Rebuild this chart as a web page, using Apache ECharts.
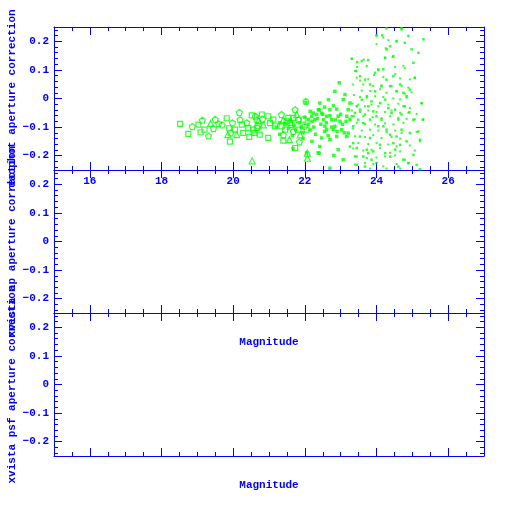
<!DOCTYPE html>
<html>
<head>
<meta charset="utf-8">
<script src="https://cdn.jsdelivr.net/npm/echarts@6/dist/echarts.min.js"></script>
<style>html,body{margin:0;padding:0;background:#fff}#c{width:512px;height:512px}</style>
</head>
<body>
<div id="c"></div>
<script>
// ---- axis setup ----
const xRange = [15, 27];
const yRange = [-0.25, 0.25];
const xMajorTicks = [16, 18, 20, 22, 24, 26];
const xMinorTicks = [15.5, 16.5, 17, 17.5, 18.5, 19, 19.5, 20.5, 21, 21.5, 22.5, 23, 23.5, 24.5, 25, 25.5, 26.5];
const yMajorTicks = [-0.2, -0.1, 0, 0.1, 0.2];
const yMinorTicks = [-0.24, -0.22, -0.18, -0.16, -0.14, -0.12, -0.08, -0.06, -0.04, -0.02, 0.02, 0.04, 0.06, 0.08, 0.12, 0.14, 0.16, 0.18, 0.22, 0.24];
const yTitles = ['daophot aperture correction', 'xvista ap aperture correction', 'xvista psf aperture correction'];
const xTitle = 'Magnitude';

// ---- data: [magnitude, aperture correction] (top panel) ----
const openSquares = [[18.52,-0.089],[18.75,-0.124],[19.03,-0.091],[19.09,-0.118],[19.2,-0.109],[19.82,-0.069],[19.91,-0.151],[19.89,-0.104],[20.05,-0.109],[20.24,-0.091],[20.28,-0.12],[20.42,-0.103],[20.45,-0.134],[20.52,-0.059],[20.59,-0.12],[20.66,-0.103],[20.74,-0.126],[20.56,-0.109],[20.70,-0.097],[20.98,-0.062],[21.03,-0.086],[21.17,-0.097],[20.98,-0.138],[21.35,-0.097],[21.45,-0.109],[21.49,-0.080],[21.59,-0.086],[21.68,-0.068],[21.82,-0.109],[21.40,-0.147],[21.73,-0.173],[21.96,-0.074],[22.05,-0.109],[20.80,-0.056],[21.12,-0.074],[21.54,-0.068],[21.63,-0.092]];
const openTriangles = [[19.37,-0.087],[19.85,-0.126],[20.1,-0.126],[20.53,-0.218],[20.71,-0.077],[21.40,-0.074],[21.77,-0.056],[21.87,-0.127],[22.07,-0.191],[22.07,-0.209],[20.84,-0.092],[21.57,-0.144]];
const openPentagons = [[18.86,-0.098],[19.14,-0.076],[19.31,-0.131],[19.45,-0.105],[19.5,-0.073],[19.59,-0.088],[19.69,-0.092],[19.93,-0.12],[19.98,-0.085],[20.17,-0.049],[20.19,-0.074],[20.38,-0.085],[20.62,-0.062],[20.66,-0.074],[20.82,-0.072],[21.35,-0.056],[21.40,-0.127],[21.73,-0.039],[21.82,-0.074],[21.68,-0.115],[21.85,-0.152],[22.00,-0.097],[22.03,-0.010]];
const filledSquares = [[22.10,-0.074],[22.19,-0.062],[22.24,-0.051],[22.28,-0.074],[22.33,-0.056],[22.38,-0.039],[22.42,-0.016],[22.47,-0.051],[22.52,-0.074],[22.56,-0.097],[22.61,-0.062],[22.66,-0.004],[22.70,-0.039],[22.75,-0.074],[22.80,-0.025],[22.84,-0.097],[22.89,-0.037],[22.93,-0.062],[22.98,-0.080],[23.03,-0.109],[22.96,0.055],[22.84,0.025],[23.07,-0.004],[23.12,0.014],[23.17,-0.062],[23.21,-0.039],[23.26,-0.074],[23.26,-0.016],[22.42,-0.168],[22.40,-0.191],[22.47,-0.138],[22.61,-0.109],[22.70,-0.144],[22.80,-0.109],[22.89,-0.133],[22.93,-0.179],[22.81,-0.199],[22.70,-0.244],[23.07,-0.214],[23.17,-0.133],[23.21,-0.121],
[21.2,-0.1],[21.3,-0.085],[21.45,-0.09],[21.55,-0.105],[21.6,-0.075],[21.7,-0.095],[21.75,-0.11],[21.85,-0.085],[21.9,-0.1],[21.95,-0.12],[22.0,-0.065],[22.1,-0.09],[22.15,-0.11],[22.2,-0.08],[22.25,-0.1],[22.3,-0.125],[22.35,-0.07],[22.45,-0.09],[22.5,-0.055],[22.55,-0.115],[22.6,-0.085],[22.65,-0.13],[22.7,-0.06],[22.75,-0.1],[22.85,-0.075],[22.9,-0.115],[23.0,-0.055],[23.05,-0.09],[23.1,-0.12],[23.15,-0.08],[21.3,-0.125],[21.65,-0.13],[21.95,-0.14],[22.2,-0.15],[22.4,-0.04],[22.55,-0.03],[22.15,-0.045],[22.03,-0.013],[22.37,-0.19],[22.05,-0.19],[21.67,-0.175]];
const smallSquares = [[23.31,-0.062],[23.35,-0.097],[23.40,-0.051],[23.45,-0.027],[23.49,-0.074],[23.54,-0.039],[23.59,-0.004],[23.63,-0.086],[23.68,-0.056],[23.73,0.008],[23.77,-0.027],[23.82,-0.074],[23.86,-0.010],[23.91,-0.045],[23.96,0.025],[24.00,-0.062],[24.05,-0.097],[24.10,-0.016],[24.14,-0.074],[23.35,-0.156],[23.45,-0.173],[23.54,-0.133],[23.63,-0.203],[23.73,-0.179],[23.82,-0.138],[23.91,-0.185],[24.00,-0.226],[24.10,-0.162],[23.31,0.139],[23.46,0.127],[23.59,0.131],[23.77,0.134],[23.43,0.096],[23.54,0.078],[23.68,0.066],[23.82,0.049],[23.96,0.090],[24.05,0.102],[24.14,0.043],[23.40,-0.203],[23.45,-0.232],[23.68,-0.238],[23.77,-0.191],[23.86,-0.214],[23.26,-0.168],
[24.24,0.142],[24.28,0.172],[24.38,0.183],[24.47,0.148],[24.56,0.201],[24.70,0.242],[24.79,0.195],[24.89,0.219],[24.98,0.172],[25.03,0.125],[25.17,0.160],[25.31,0.207],[24.19,0.102],[24.28,0.066],[24.38,0.043],[24.47,0.078],[24.56,0.025],[24.66,0.049],[24.75,0.020],[24.84,0.008],[24.93,0.031],[25.07,0.072],[25.26,-0.016],[24.24,-0.004],[24.33,-0.033],[24.42,-0.051],[24.52,-0.039],[24.61,-0.074],[24.70,-0.056],[24.79,-0.027],[24.92,-0.048],[25.03,-0.074],[25.29,-0.074],[24.19,-0.097],[24.28,-0.109],[24.38,-0.127],[24.47,-0.156],[24.56,-0.133],[24.66,-0.162],[24.70,-0.109],[24.84,-0.150],[24.93,-0.121],[25.17,-0.115],[25.21,-0.144],[24.24,-0.191],[24.38,-0.203],[24.52,-0.179],[24.61,-0.238],[24.75,-0.214],[24.89,-0.226],[25.03,-0.197],[25.12,-0.232],[25.21,-0.247],[24.00,0.221],[24.16,0.221],[24.28,0.245],[24.70,0.246]];
const tinyDots = [[24.00,0.219],[24.19,0.213],[24.33,0.204],[24.56,0.199],[24.00,0.190],[24.26,0.176],[24.45,0.145],[24.24,0.143],[23.31,0.139],[23.65,0.136],[23.46,0.110],[23.73,0.114],[23.40,0.096],[23.93,0.082],[24.05,0.099],[24.52,0.110],[24.75,0.114],[24.79,0.106],[24.52,0.085],[23.45,0.073],[23.54,0.063],[23.77,0.067],[24.19,0.075],[24.66,0.070],[24.93,0.067],[25.07,0.073],[23.35,0.049],[23.63,0.049],[23.91,0.044],[24.14,0.046],[24.42,0.044],[24.70,0.044],[24.89,0.038],[23.59,0.028],[23.82,0.026],[24.10,0.032],[24.28,0.020],[24.56,0.026],[24.79,0.017],[24.98,0.022],[23.37,0.012],[23.54,0.005],[23.73,0.003],[23.96,0.008],[24.19,0.005],[24.47,0.000],[24.66,-0.003],[24.84,0.003],[25.26,-0.017],[23.33,-0.018],[23.49,-0.021],[23.68,-0.027],[23.86,-0.021],[24.05,-0.027],[24.33,-0.021],[24.61,-0.018],[24.75,-0.027],[24.93,-0.033],[23.31,-0.042],[23.54,-0.047],[23.77,-0.042],[24.00,-0.047],[24.24,-0.047],[24.42,-0.042],[24.66,-0.050],[24.89,-0.050],[25.12,-0.054],[23.37,-0.062],[23.63,-0.062],[23.89,-0.065],[24.14,-0.068],[24.38,-0.062],[24.61,-0.068],[24.84,-0.071],[25.07,-0.073],[25.31,-0.073],[23.45,-0.085],[23.68,-0.089],[23.96,-0.091],[24.24,-0.087],[24.47,-0.091],[24.75,-0.085],[23.35,-0.105],[23.59,-0.112],[23.82,-0.109],[24.05,-0.112],[24.28,-0.117],[24.52,-0.112],[24.70,-0.120],[25.12,-0.117],[23.40,-0.132],[23.68,-0.135],[23.91,-0.128],[24.14,-0.138],[24.42,-0.135],[24.66,-0.140],[25.21,-0.150],[23.49,-0.155],[23.77,-0.159],[24.00,-0.155],[24.33,-0.161],[24.56,-0.167],[24.93,-0.164],[23.35,-0.175],[23.63,-0.182],[23.86,-0.179],[24.10,-0.173],[24.38,-0.190],[24.66,-0.185],[25.07,-0.182],[23.45,-0.202],[23.73,-0.208],[24.00,-0.206],[24.24,-0.202],[24.52,-0.199],[24.79,-0.214],[23.40,-0.231],[23.68,-0.226],[23.91,-0.229],[24.19,-0.237],[24.56,-0.229],[24.89,-0.226],[23.82,-0.245],[24.28,-0.245],[24.66,-0.245]];

// ---- styles ----
const BLUE = '#0000ff';
const GREEN = '#00ff00';
const FONT = 'Liberation Mono';
const gridTops = [27, 170, 313];
const gridH = 143;

const chart = echarts.init(document.getElementById('c'), null, {renderer: 'canvas'});

const grids = [], xAxes = [], yAxes = [];
const lineStyle = {color: BLUE, width: 1};
const txt = {color: BLUE, fontFamily: FONT, fontSize: 11, fontWeight: 'bold'};
function fmtY(v) {
  if (Math.abs(v) < 1e-9) return '0';
  return (v < 0 ? '\u2212' : '') + Math.abs(v).toFixed(1);
}
gridTops.forEach((top, g) => {
  grids.push({left: 54, width: 430, top: top, height: gridH, containLabel: false, outerBoundsMode: 'none'});
  const xBase = {gridIndex: g, type: 'value', min: xRange[0], max: xRange[1], splitLine: {show: false}};
  ['bottom', 'top'].forEach((pos) => {
    xAxes.push(Object.assign({}, xBase, {
      position: pos,
      axisLine: {show: true, onZero: false, lineStyle},
      axisTick: {show: true, inside: true, length: 8, customValues: xMajorTicks, lineStyle},
      axisLabel: Object.assign({show: g === 0 && pos === 'bottom', customValues: xMajorTicks, margin: 6}, txt),
      name: (g > 0 && pos === 'bottom') ? xTitle : '',
      nameLocation: 'middle', nameGap: 24, nameMoveOverlap: false,
      nameTextStyle: txt
    }));
    xAxes.push(Object.assign({}, xBase, {
      position: pos,
      axisLine: {show: false, onZero: false},
      axisTick: {show: true, inside: true, length: 4, customValues: xMinorTicks, lineStyle},
      axisLabel: {show: false}
    }));
  });
  const yBase = {gridIndex: g, type: 'value', min: yRange[0], max: yRange[1], splitLine: {show: false}};
  ['left', 'right'].forEach((pos) => {
    yAxes.push(Object.assign({}, yBase, {
      position: pos,
      axisLine: {show: true, onZero: false, lineStyle},
      axisTick: {show: true, inside: true, length: 8, customValues: yMajorTicks, lineStyle},
      axisLabel: Object.assign({show: pos === 'left', customValues: yMajorTicks, margin: 5, formatter: fmtY}, txt),
      name: pos === 'left' ? yTitles[g] : '',
      nameLocation: 'middle', nameGap: 36, nameMoveOverlap: false,
      nameTextStyle: txt
    }));
    yAxes.push(Object.assign({}, yBase, {
      position: pos,
      axisLine: {show: false, onZero: false},
      axisTick: {show: true, inside: true, length: 4, customValues: yMinorTicks, lineStyle},
      axisLabel: {show: false}
    }));
  });
});

const openStyle = {color: 'transparent', borderColor: GREEN, borderWidth: 1.2};
const pentagon = 'path://M0,-10L9.5,-3.1L5.9,8.1L-5.9,8.1L-9.5,-3.1Z';
const base = {type: 'scatter', xAxisIndex: 0, yAxisIndex: 0, silent: true, animation: false};
const series = [
  Object.assign({}, base, {name: 'sq', data: openSquares, symbol: 'rect', symbolSize: 5, itemStyle: openStyle}),
  Object.assign({}, base, {name: 'tri', data: openTriangles, symbol: 'triangle', symbolSize: 6, itemStyle: openStyle}),
  Object.assign({}, base, {name: 'pent', data: openPentagons, symbol: pentagon, symbolSize: 6, itemStyle: openStyle}),
  Object.assign({}, base, {name: 'fsq', data: filledSquares, symbol: 'rect', symbolSize: 3.5, itemStyle: {color: GREEN}}),
  Object.assign({}, base, {name: 'ssq', data: smallSquares, symbol: 'rect', symbolSize: 2.5, itemStyle: {color: GREEN}}),
  Object.assign({}, base, {name: 'dot', data: tinyDots, symbol: 'rect', symbolSize: 2, itemStyle: {color: GREEN}})
];

chart.setOption({
  animation: false,
  backgroundColor: '#ffffff',
  textStyle: {fontFamily: FONT},
  grid: grids,
  xAxis: xAxes,
  yAxis: yAxes,
  series: series
});
</script>
</body>
</html>
